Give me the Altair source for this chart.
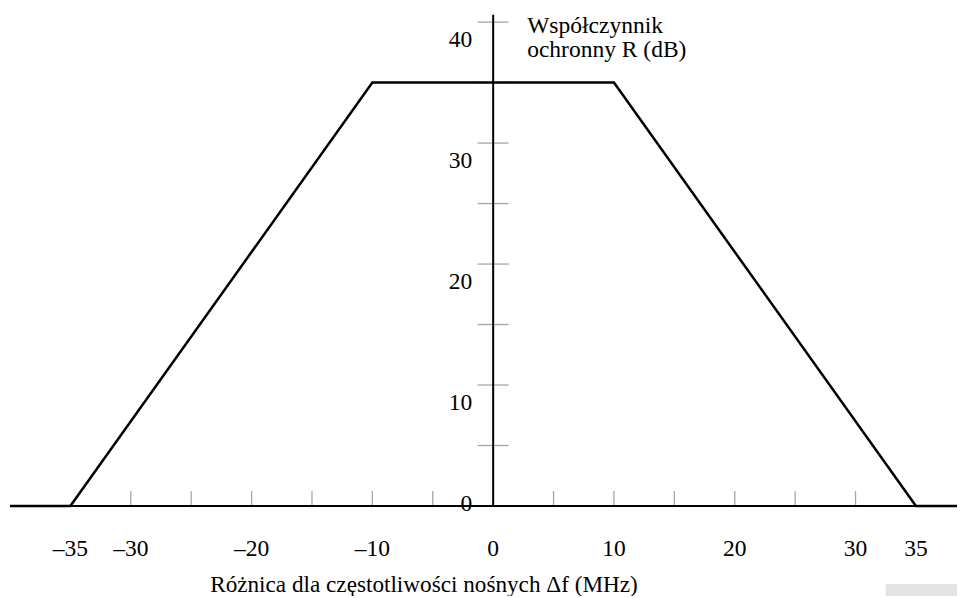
import altair as alt
import pandas as pd

# ---- data ----
curve_x = [-40, -35, -10, 10, 35, 38.4]
curve_r = [0, 0, 35, 35, 0, 0]

x_domain = [-40, 38.4]
y_domain = [0, 41]
y_axis_top = 40.6

x_tick_vals = [-30, -25, -20, -15, -10, -5, 5, 10, 15, 20, 25, 30]
y_tick_vals = [5, 10, 15, 20, 25, 30, 35, 40]
x_label_vals = [-35, -30, -20, -10, 0, 10, 20, 30, 35]
y_label_vals = [10, 20, 30, 40]
y_zero_label = [0]

x_title = "Różnica dla częstotliwości nośnych Δf (MHz)"
y_title = "Współczynnik\nochronny R (dB)"

patch_x = [32.5, 38.4]
patch_y = [-6.45, -7.7]

FONT = "'Liberation Serif', 'Times New Roman', 'DejaVu Serif', serif"
FS = 23.5


def X(field):
    return alt.X(field, type="quantitative", scale=alt.Scale(domain=x_domain, nice=False), axis=None)


def Y(field):
    return alt.Y(field, type="quantitative", scale=alt.Scale(domain=y_domain, nice=False), axis=None)


curve_df = pd.DataFrame({"x": curve_x, "r": curve_r})
xt_df = pd.DataFrame({"x": x_tick_vals, "y": [0] * len(x_tick_vals)})
yt_df = pd.DataFrame({"x": [0] * len(y_tick_vals), "y": y_tick_vals})
xl_df = pd.DataFrame({
    "x": x_label_vals,
    "y": [0] * len(x_label_vals),
    "t": [str(v).replace("-", "\u2013") for v in x_label_vals],
})
yl_df = pd.DataFrame({"x": [0] * len(y_label_vals), "y": y_label_vals, "t": [str(v) for v in y_label_vals]})
y0_df = pd.DataFrame({"x": [0], "y": y_zero_label, "t": [str(v) for v in y_zero_label]})
xaxis_df = pd.DataFrame({"x": [x_domain[0]], "x2": [x_domain[1]], "y": [0]})
yaxis_df = pd.DataFrame({"x": [0], "y": [0], "y2": [y_axis_top]})
ytitle_df = pd.DataFrame({"x": [0], "y": [40], "t": [y_title]})
xtitle_df = pd.DataFrame({"x": [0], "y": [0], "t": [x_title]})
patch_df = pd.DataFrame({"x": [patch_x[0]], "x2": [patch_x[1]], "y": [patch_y[0]], "y2": [patch_y[1]]})

patch = alt.Chart(patch_df).mark_rect(color="#e3e3e3").encode(
    x=X("x"), x2="x2", y=Y("y"), y2="y2"
)

x_ticks = alt.Chart(xt_df).mark_tick(
    orient="vertical", size=15, thickness=1.3, color="#808080", yOffset=-7.5
).encode(x=X("x"), y=Y("y"))

y_ticks = alt.Chart(yt_df).mark_tick(
    orient="horizontal", size=31, thickness=1.3, color="#808080"
).encode(x=X("x"), y=Y("y"))

x_axis = alt.Chart(xaxis_df).mark_rule(color="black", strokeWidth=2).encode(
    x=X("x"), x2="x2", y=Y("y")
)
y_axis = alt.Chart(yaxis_df).mark_rule(color="black", strokeWidth=2).encode(
    x=X("x"), y=Y("y"), y2="y2"
)

curve = alt.Chart(curve_df).mark_line(color="black", strokeWidth=2.5, strokeJoin="miter").encode(
    x=X("x"), y=Y("r"), order="x:Q"
)

x_labels = alt.Chart(xl_df).mark_text(
    font=FONT, fontSize=FS, color="black", align="center", baseline="middle", dy=43
).encode(x=X("x"), y=Y("y"), text="t:N")

y_labels = alt.Chart(yl_df).mark_text(
    font=FONT, fontSize=FS, color="black", align="right", baseline="middle", dx=-21, dy=18
).encode(x=X("x"), y=Y("y"), text="t:N")

y_zero = alt.Chart(y0_df).mark_text(
    font=FONT, fontSize=FS, color="black", align="right", baseline="middle", dx=-21, dy=-2
).encode(x=X("x"), y=Y("y"), text="t:N")

y_title_mark = alt.Chart(ytitle_df).mark_text(
    font=FONT, fontSize=FS, color="black", align="left", baseline="alphabetic",
    dx=34, dy=11, lineBreak="\n", lineHeight=24
).encode(x=X("x"), y=Y("y"), text="t:N")

x_title_mark = alt.Chart(xtitle_df).mark_text(
    font=FONT, fontSize=23.2, color="black", align="left", baseline="alphabetic",
    dx=-283, dy=86
).encode(x=X("x"), y=Y("y"), text="t:N")

chart = alt.layer(
    patch, x_ticks, y_ticks, x_axis, y_axis, curve,
    x_labels, y_labels, y_zero, y_title_mark, x_title_mark
).properties(
    width=947,
    height=496,
    padding={"left": 2, "top": 2, "right": 0, "bottom": 90},
    autosize="none",
    background="white",
).configure_view(strokeWidth=0)

chart.save("out.html", embed_options={"renderer": "svg", "actions": False})
